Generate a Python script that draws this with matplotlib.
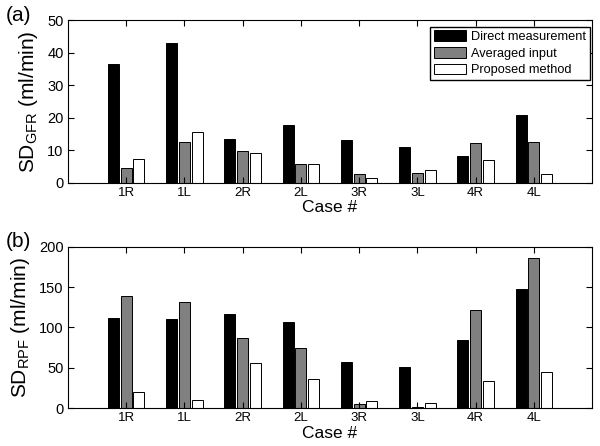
import matplotlib
matplotlib.use("Agg")
import matplotlib.pyplot as plt
import numpy as np

plt.rcParams["font.family"] = ["Liberation Sans", "DejaVu Sans"]

CASES = ["1R", "1L", "2R", "2L", "3R", "3L", "4R", "4L"]
SERIES = ["Direct measurement", "Averaged input", "Proposed method"]
COLORS = ["black", "#808080", "white"]

# (a) SD of GFR
gfr_direct = [36.5, 43.1, 13.4, 17.9, 13.1, 10.9, 8.2, 20.7]
gfr_avg = [4.6, 12.5, 9.8, 5.7, 2.7, 2.9, 12.1, 12.7]
gfr_prop = [7.4, 15.5, 9.2, 5.7, 1.6, 4.1, 7.0, 2.7]

# (b) SD of RPF
rpf_direct = [112, 110, 116, 107, 57, 51.5, 84, 147.5]
rpf_avg = [138.5, 131, 87, 74, 5, 1.6, 122, 186]
rpf_prop = [20, 10, 56, 36, 9, 6, 34, 45]


def draw_panel(ax, data, ylim, yticks, ylabel, letter, legend=False):
    x = np.arange(1, len(CASES) + 1)
    width = 0.19
    step = 0.22
    for i, vals in enumerate(data):
        ax.bar(x + (i - 1) * step, vals, width, color=COLORS[i],
               edgecolor="black", linewidth=0.7, label=SERIES[i])
    ax.set_xlim(0, 9)
    ax.set_ylim(*ylim)
    ax.set_xticks(x)
    ax.set_xticklabels(CASES, fontsize=9.5)
    ax.set_yticks(yticks)
    ax.tick_params(axis="y", labelsize=10.5)
    ax.tick_params(direction="in", top=True, right=True, length=4,
                   width=0.8, pad=3)
    for s in ax.spines.values():
        s.set_linewidth(0.8)
    ax.set_xlabel("Case #", fontsize=12.5, labelpad=1)
    ax.set_ylabel(ylabel, fontsize=15, labelpad=5)
    ax.text(-0.094, 1.03, letter, transform=ax.transAxes, fontsize=15,
            ha="center", va="center")
    if legend:
        ax.legend(loc="upper right", bbox_to_anchor=(0.995, 0.96),
                  fontsize=9.2, frameon=True,
                  fancybox=False, edgecolor="black", framealpha=1,
                  handlelength=2.5, handleheight=0.9, handletextpad=0.4,
                  labelspacing=0.3, borderpad=0.3, borderaxespad=0.0)


fig = plt.figure(figsize=(6.0, 4.46), dpi=100)
ax1 = fig.add_axes([0.113, 0.590, 0.874, 0.365])
ax2 = fig.add_axes([0.113, 0.085, 0.874, 0.362])

draw_panel(ax1, [gfr_direct, gfr_avg, gfr_prop], (0, 50),
           [0, 10, 20, 30, 40, 50], r"SD$_\mathregular{GFR}$ (ml/min)",
           "(a)", legend=True)
draw_panel(ax2, [rpf_direct, rpf_avg, rpf_prop], (0, 200),
           [0, 50, 100, 150, 200], r"SD$_\mathregular{RPF}$ (ml/min)",
           "(b)")

fig.savefig("out.png", dpi=100)
